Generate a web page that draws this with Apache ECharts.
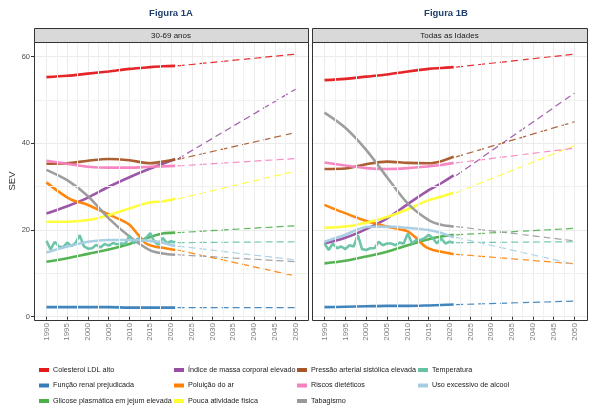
<!DOCTYPE html>
<html>
<head>
<meta charset="utf-8">
<script src="https://cdn.jsdelivr.net/npm/echarts@6/dist/echarts.min.js"></script>
<style>
html, body { margin: 0; padding: 0; background: #fff; }
#chart { width: 594px; height: 420px; }
</style>
</head>
<body>
<div id="chart"></div>
<script>
// anos de leitura
var anosSuave = [1990, 1995, 2000, 2005, 2010, 2015, 2018, 2021];
var anosPoluicao = [1990, 1993, 1996, 2000, 2005, 2008, 2010, 2012, 2014, 2016, 2018, 2021];
var anosTemperatura = [];
for (var a = 1990; a <= 2021; a++) anosTemperatura.push(a);
var anoProjecao = 2050;
var ticksAnos = [1990, 1995, 2000, 2005, 2010, 2015, 2020, 2025, 2030, 2035, 2040, 2045, 2050];
var minorAnos = [1992.5, 1997.5, 2002.5, 2007.5, 2012.5, 2017.5, 2022.5, 2027.5, 2032.5, 2037.5, 2042.5, 2047.5];
var ticksSev = [0, 20, 40, 60];
var minorSev = [10, 30, 50];

var riscos = ['Colesterol LDL alto', 'Função renal prejudicada', 'Glicose plasmática em jejum elevada',
    'Índice de massa corporal elevado', 'Poluição do ar', 'Pouca atividade física',
    'Pressão arterial sistólica elevada', 'Riscos dietéticos', 'Tabagismo',
    'Temperatura', 'Uso excessivo de alcool'];
var cores = ['#e41a1c', '#377eb8', '#4daf4a', '#984ea3', '#ff7f00', '#ffff33',
    '#a65628', '#f781bf', '#999999', '#66c2a5', '#a6cee3'];

// Figura 1A - 30-69 anos
var colesterolA = [55.3, 55.6, 56.1, 56.6, 57.2, 57.6, 57.8, 57.9];
var renalA = [2.2, 2.2, 2.2, 2.2, 2.1, 2.1, 2.1, 2.1];
var glicoseA = [12.7, 13.5, 14.5, 15.5, 16.8, 18.4, 19.2, 19.4];
var imcA = [23.8, 25.5, 27.5, 30.0, 32.2, 34.2, 35.3, 36.4];
var poluicaoA = [31.0, 28.8, 27.0, 25.8, 23.6, 22.3, 21.2, 19.0, 16.9, 16.2, 15.9, 15.4];
var atividadeA = [21.9, 21.9, 22.3, 23.4, 25.0, 26.4, 26.6, 27.2];
var pressaoA = [35.3, 35.4, 36.0, 36.4, 36.1, 35.4, 35.8, 36.3];
var dieteticosA = [36.0, 35.3, 34.6, 34.4, 34.4, 34.6, 34.7, 34.8];
var tabagismoA = [33.9, 31.5, 27.8, 22.7, 18.5, 15.3, 14.6, 14.3];
var temperaturaA = [17.5, 15.5, 17.3, 16.2, 16.0, 17.1, 16.3, 17.0, 18.8, 16.3, 15.7, 15.8, 16.6, 16.0, 16.8, 16.4,
    17.0, 16.7, 16.9, 16.8, 18.7, 16.9, 18.0, 17.5, 18.2, 19.3, 17.3, 16.6, 18.2, 17.0, 17.4, 17.1];
var alcoolA = [14.8, 16.2, 17.3, 17.7, 17.7, 17.5, 17.1, 16.3];
var projecaoA = [60.6, 2.1, 21.0, 52.5, 9.4, 33.6, 42.5, 36.5, 12.7, 17.3, 13.1];

// Figura 1B - Todas as idades
var colesterolB = [54.6, 54.9, 55.4, 55.9, 56.6, 57.2, 57.4, 57.6];
var renalB = [2.2, 2.3, 2.4, 2.5, 2.5, 2.6, 2.7, 2.8];
var glicoseB = [12.3, 12.9, 13.9, 15.0, 16.5, 17.9, 18.5, 18.9];
var imcB = [16.9, 18.2, 20.2, 22.7, 26.0, 29.2, 30.8, 32.6];
var poluicaoB = [25.8, 24.6, 23.5, 22.1, 20.8, 20.2, 19.7, 18.2, 16.3, 15.4, 15.0, 14.4];
var atividadeB = [20.5, 20.8, 21.7, 23.0, 24.8, 26.9, 27.7, 28.6];
var pressaoB = [34.1, 34.2, 35.2, 35.8, 35.5, 35.4, 35.9, 36.9];
var dieteticosB = [35.6, 34.9, 34.3, 34.1, 34.3, 34.7, 35.0, 35.5];
var tabagismoB = [47.1, 43.6, 38.5, 32.2, 26.1, 22.3, 21.2, 20.8];
var temperaturaB = [16.9, 15.4, 16.9, 15.8, 16.2, 15.6, 16.5, 16.2, 18.9, 15.6, 15.4, 15.8, 15.8, 17.3, 16.5, 16.9,
    16.9, 16.5, 17.1, 16.9, 19.2, 16.9, 17.7, 17.7, 18.1, 18.9, 18.1, 16.9, 18.1, 16.9, 17.3, 17.1];
var alcoolB = [17.3, 18.9, 20.7, 20.8, 20.5, 20.0, 19.3, 18.3];
var projecaoB = [60.6, 3.6, 20.4, 51.6, 12.2, 39.5, 45.0, 38.9, 17.5, 17.3, 12.1];

var paineis = [
    { anos: [anosSuave, anosSuave, anosSuave, anosSuave, anosPoluicao, anosSuave, anosSuave, anosSuave, anosSuave, anosTemperatura, anosSuave],
      vals: [colesterolA, renalA, glicoseA, imcA, poluicaoA, atividadeA, pressaoA, dieteticosA, tabagismoA, temperaturaA, alcoolA],
      proj: projecaoA },
    { anos: [anosSuave, anosSuave, anosSuave, anosSuave, anosPoluicao, anosSuave, anosSuave, anosSuave, anosSuave, anosTemperatura, anosSuave],
      vals: [colesterolB, renalB, glicoseB, imcB, poluicaoB, atividadeB, pressaoB, dieteticosB, tabagismoB, temperaturaB, alcoolB],
      proj: projecaoB }
];

var fonte = "'Liberation Sans', Arial, sans-serif";
var series = [];
paineis.forEach(function (p, g) {
    // grade secundaria (linhas menores)
    series.push({
        type: 'line', xAxisIndex: g, yAxisIndex: g, data: [], silent: true, z: 0,
        markLine: {
            silent: true, symbol: 'none', label: { show: false }, animation: false,
            lineStyle: { color: '#f0f0f0', width: 1, type: 'solid' },
            data: minorAnos.map(function (v) { return { xAxis: v }; })
                .concat(minorSev.map(function (v) { return { yAxis: v }; }))
        }
    });
    riscos.forEach(function (nome, i) {
        var dados = p.anos[i].map(function (ano, k) { return [ano, p.vals[i][k]]; });
        var ultimo = p.vals[i][p.vals[i].length - 1];
        series.push({
            type: 'line', name: nome, xAxisIndex: g, yAxisIndex: g,
            data: [[2021.6, ultimo], [anoProjecao, p.proj[i]]],
            symbol: 'none', color: cores[i], silent: true,
            lineStyle: { color: cores[i], width: 1.2, type: [7, 4], opacity: 0.9 }
        });
        series.push({
            type: 'line', name: nome, xAxisIndex: g, yAxisIndex: g,
            data: dados,
            smooth: nome === 'Temperatura' ? false : 0.3,
            symbol: 'none', color: cores[i], silent: true,
            lineStyle: { color: cores[i], width: 2.6, opacity: 0.95 }
        });
    });
});

function eixoX(g) {
    return {
        type: 'value', gridIndex: g, min: 1987, max: 2053,
        axisLine: { show: false },
        axisTick: { customValues: ticksAnos, length: 3, lineStyle: { color: '#333' } },
        axisLabel: { customValues: ticksAnos, rotate: 90, fontSize: 8, color: '#7f7f7f', fontFamily: fonte, margin: 3,
            formatter: function (v) { return String(v); } },
        splitLine: { show: true, lineStyle: { color: '#ebebeb', width: 1 } }
    };
}
function eixoY(g) {
    return {
        type: 'value', gridIndex: g, min: -0.76, max: 63.4,
        name: g === 0 ? 'SEV' : '', nameLocation: 'middle', nameGap: 15,
        nameTextStyle: { fontSize: 9.5, color: '#333', fontFamily: fonte },
        axisLine: { show: false },
        axisTick: { show: g === 0, customValues: ticksSev, length: 3, lineStyle: { color: '#333' } },
        axisLabel: { show: g === 0, customValues: ticksSev, fontSize: 7.5, color: '#4d4d4d', fontFamily: fonte, margin: 4,
            formatter: function (v) { return String(v); } },
        splitLine: { show: true, lineStyle: { color: '#ebebeb', width: 1 } }
    };
}

var colunas = [
    [riscos[0], riscos[1], riscos[2]],
    [riscos[3], riscos[4], riscos[5]],
    [riscos[6], riscos[7], riscos[8]],
    [riscos[9], riscos[10]]
];
var colunaX = [39, 174, 297, 418];
var legendas = colunas.map(function (col, c) {
    return {
        orient: 'vertical', left: colunaX[c], top: 365,
        data: col, icon: 'rect', itemWidth: 10, itemHeight: 4, itemGap: 5.5,
        selectedMode: false, padding: 0,
        itemStyle: { borderWidth: 0 },
        textStyle: { fontSize: 7.2, color: '#1a1a1a', fontFamily: fonte, lineHeight: 10, padding: [0, 0, 0, -1] }
    };
});

var myChart = echarts.init(document.getElementById('chart'));
var option = {
    animation: false,
    backgroundColor: '#fff',
    grid: [
        { left: 34, top: 42, width: 274, height: 278, show: true, borderWidth: 0, backgroundColor: '#fff' },
        { left: 312, top: 42, width: 275, height: 278, show: true, borderWidth: 0, backgroundColor: '#fff' }
    ],
    xAxis: [eixoX(0), eixoX(1)],
    yAxis: [eixoY(0), eixoY(1)],
    legend: legendas,
    graphic: [
        { type: 'text', x: 171, y: 13, style: { text: 'Figura 1A', font: "bold 9.5px 'Liberation Sans Narrow', 'Liberation Sans', sans-serif", fill: '#1f3f6e', align: 'center', verticalAlign: 'middle' } },
        { type: 'text', x: 446, y: 13, style: { text: 'Figura 1B', font: "bold 9.5px 'Liberation Sans Narrow', 'Liberation Sans', sans-serif", fill: '#1f3f6e', align: 'center', verticalAlign: 'middle' } },
        { type: 'rect', z: 100, shape: { x: 34.5, y: 42.5, width: 274, height: 278 }, style: { fill: null, stroke: '#333', lineWidth: 1 } },
        { type: 'rect', z: 100, shape: { x: 312.5, y: 42.5, width: 275, height: 278 }, style: { fill: null, stroke: '#333', lineWidth: 1 } },
        { type: 'rect', z: 100, shape: { x: 34.5, y: 28.5, width: 274, height: 14 }, style: { fill: '#d9d9d9', stroke: '#333', lineWidth: 1 } },
        { type: 'rect', z: 100, shape: { x: 312.5, y: 28.5, width: 275, height: 14 }, style: { fill: '#d9d9d9', stroke: '#333', lineWidth: 1 } },
        { type: 'text', z: 101, x: 171, y: 35.5, style: { text: '30-69 anos', font: "8px 'Liberation Sans', sans-serif", fill: '#1a1a1a', align: 'center', verticalAlign: 'middle' } },
        { type: 'text', z: 101, x: 449.5, y: 35.5, style: { text: 'Todas as Idades', font: "8px 'Liberation Sans', sans-serif", fill: '#1a1a1a', align: 'center', verticalAlign: 'middle' } }
    ],
    series: series
};
myChart.setOption(option);
</script>
</body>
</html>
